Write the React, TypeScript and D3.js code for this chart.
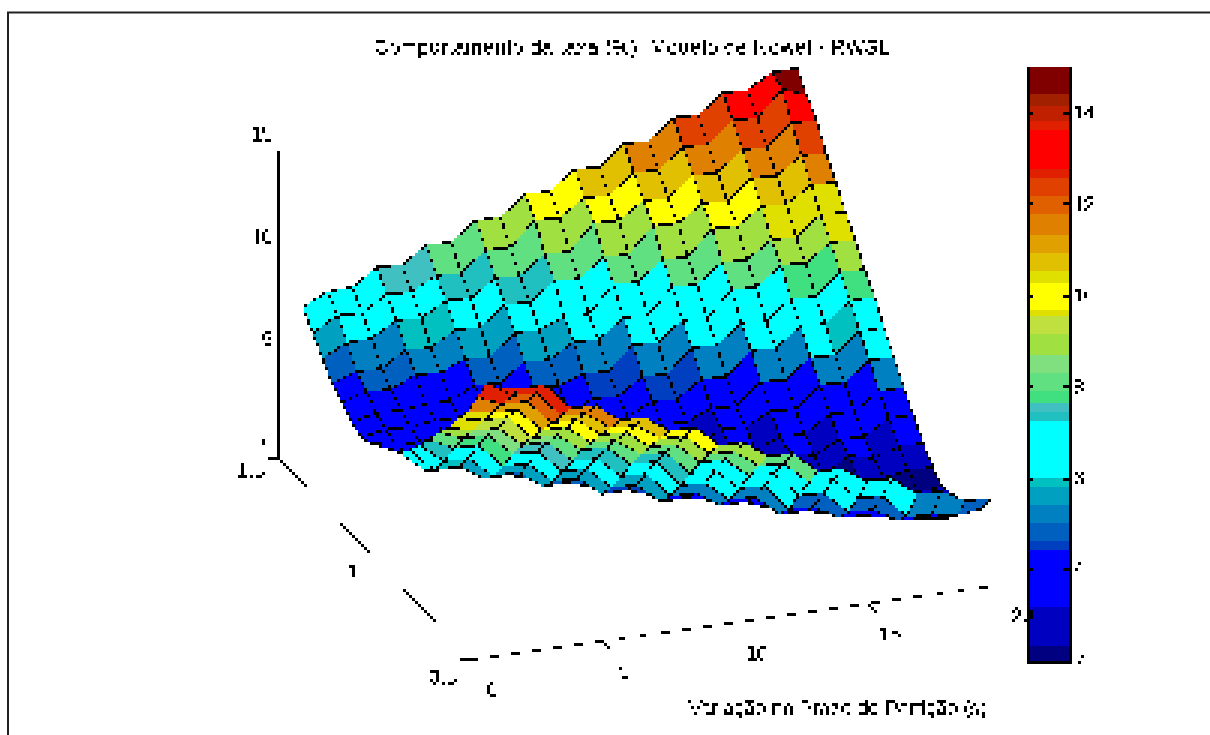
import React from 'react';
import * as d3 from 'd3';

// taxa (%): one list per particao, 21 values from the back row to the front row
const c00 = [7.0,6.25,5.55,4.85,4.38,3.95,3.7,3.87,4.13,4.67,5.2,6.03,6.7,7.35,8.15,8.77,9.66,10.37,11.5,12.6,12.75];
const c01 = [7.55,6.9,6.1,5.2,4.75,4.2,3.9,3.6,3.7,4.04,4.2,4.85,5.8,6.85,7.7,8.5,9.4,10.2,11.0,11.85,12.62];
const c02 = [7.6,6.85,6.15,5.2,4.7,4.2,3.85,3.6,3.65,4.0,4.15,4.8,5.75,6.8,7.7,8.45,9.4,10.15,11.0,11.8,12.6];
const c03 = [8.35,7.55,6.8,5.9,5.2,4.3,4.0,3.7,3.5,3.4,3.7,4.0,4.8,5.7,6.7,7.55,8.3,9.1,9.85,10.6,11.4];
const c04 = [8.29,7.5,6.75,5.85,5.15,4.3,3.95,3.65,3.45,3.4,3.65,3.95,4.75,5.65,6.65,7.5,8.25,9.05,9.85,10.55,11.35];
const c05 = [9.05,8.1,7.4,6.5,5.6,4.85,4.1,3.7,3.4,3.2,3.2,3.5,3.85,4.7,5.6,6.5,7.45,8.2,9.0,9.75,10.55];
const c06 = [9.03,8.05,7.35,6.45,5.55,4.8,4.05,3.65,3.35,3.2,3.15,3.45,3.8,4.65,5.55,6.45,7.4,8.15,8.95,9.7,10.5];
const c07 = [9.87,8.95,8.1,7.35,6.5,5.6,4.85,4.0,3.6,3.3,3.1,3.05,3.35,3.7,4.55,5.5,6.5,7.35,8.15,8.95,9.78];
const c08 = [9.85,8.9,8.05,7.3,6.45,5.55,4.8,3.95,3.55,3.25,3.05,3.0,3.3,3.65,4.5,5.45,6.45,7.3,8.1,8.9,9.75];
const c09 = [10.75,10.0,8.9,8.1,6.9,6.2,5.2,4.5,4.0,3.6,3.2,3.0,2.95,3.2,3.55,4.3,5.2,6.2,7.15,7.95,8.8];
const c10 = [10.73,9.95,8.85,8.05,6.85,6.15,5.15,4.45,3.95,3.55,3.15,2.95,2.9,3.15,3.5,4.25,5.15,6.15,7.1,7.9,8.75];
const c11 = [11.57,10.7,10.0,8.9,8.1,7.0,6.2,5.2,4.5,3.9,3.4,3.0,2.8,2.7,3.15,3.55,4.25,5.2,6.2,7.1,7.97];
const c12 = [11.5,10.65,9.95,8.85,8.05,6.95,6.15,5.15,4.45,3.85,3.1,2.95,2.75,2.65,3.1,3.5,4.2,5.15,6.15,7.05,7.95];
const c13 = [12.4,11.55,10.7,10.0,8.9,8.1,7.0,6.2,5.2,4.3,3.8,3.3,2.9,2.65,2.75,3.0,3.3,3.95,5.0,6.05,6.97];
const c14 = [12.38,11.5,10.65,9.95,8.85,8.05,6.95,6.15,5.15,4.25,3.75,3.1,2.85,2.3,2.7,2.95,3.25,3.9,4.95,6.0,6.95];
const c15 = [13.3,12.4,11.55,10.7,10.0,8.9,8.1,7.0,6.2,5.2,4.3,3.6,3.3,2.6,2.45,2.7,3.0,3.25,3.95,5.0,6.22];
const c16 = [13.25,12.35,11.5,10.65,9.95,8.85,8.05,6.95,6.15,5.15,4.25,3.55,3.0,2.55,2.3,2.65,2.95,3.2,3.9,4.95,6.18];
const c17 = [14.1,13.3,12.4,11.55,10.7,9.6,8.9,7.8,7.0,6.0,5.2,4.3,3.6,3.3,2.6,2.3,2.6,2.95,3.25,3.85,5.35];
const c18 = [14.08,13.25,12.35,11.5,10.65,9.57,8.85,7.75,6.95,5.95,5.15,4.25,3.55,3.0,2.55,2.3,2.6,2.9,3.2,3.8,5.3];
const c19 = [14.74,14.4,13.3,12.25,11.35,10.45,9.6,8.75,7.85,6.9,6.0,5.05,4.25,3.4,2.75,2.3,2.55,2.8,3.05,3.6,4.7];
const c20 = [14.77,13.98,13.28,12.22,11.34,10.41,9.57,8.65,7.85,6.88,6.0,5.03,4.24,3.4,2.75,2.27,2.65,2.95,3.25,3.75,4.68];
const taxa = [c00,c01,c02,c03,c04,c05,c06,c07,c08,c09,c10,c11,c12,c13,c14,c15,c16,c17,c18,c19,c20];

// colormap as the colorbar shows it
const bandEdges = [2,2.35,3.18,4.43,4.62,5.04,5.39,5.8,6,7.25,7.46,7.66,7.88,8.3,8.71,9.13,9.54,9.67,10.28,10.5,10.92,11.33,11.75,12.16,12.58,12.78,13.61,13.83,14.15,14.37,14.98];
const bandColors = ['#000080','#0000c0','#0000ff','#0040c0','#0060c0','#0080c0','#00a0c0','#00c0c0','#00ffff','#20c0c0','#40c0c0','#40e080','#60e080','#80e080','#a0e040','#c0e040','#e0e000','#ffff00','#e0e000','#e0c000','#e0a000','#e08000','#e06000','#e04000','#e02000','#ff0000','#e02000','#c02000','#a02000','#800000'];

const xTicks = [0, 5, 10, 15, 20];
const yTicks = [0.5, 1, 1.5];
const zTicks = [0, 5, 10, 15];
const barTicks = [2, 4, 6, 8, 10, 12, 14];

const title = 'Comportamento da taxa (%): Modelo de Nowel - RWSL';
const xLabel = 'Variação no Prazo de Partição (s)';

// surface projection (col, row, taxa -> screen)
const colToX = d3.scaleLinear().domain([0, 20]).range([303, 797]);
const rowToX = d3.scaleLinear().domain([0, 20]).range([0, 194]);
const colToY = d3.scaleLinear().domain([0, 20]).range([461, 393]);
const rowToY = d3.scaleLinear().domain([0, 20]).range([0, 192]);
const taxaToY = d3.scaleLinear().domain([0, 15]).range([0, -330]);
// the near rows sit lower than an orthographic view would put them
const frontLift = d3.scaleLinear().domain([0, 3]).range([0, 16]).clamp(true);

const project = (i: number, j: number): [number, number] => [
  colToX(i) + rowToX(j),
  colToY(i) + rowToY(j) + frontLift(j - 8 - 0.35 * i) + taxaToY(taxa[i][j]),
];

const colorOf = d3.scaleThreshold<number, string>().domain(bandEdges.slice(1, -1)).range(bandColors);
const closed = d3.line().curve(d3.curveLinearClosed);

// axes in the picture
const zAxis = d3.scaleLinear().domain([0, 15]).range([458, 150]);
const xAxisX = d3.scaleLinear().domain([0, 20]).range([470, 1000]);
const xAxisY = d3.scaleLinear().domain([0, 20]).range([660, 585]);
const yAxisX = d3.scaleLinear().domain([0.5, 1.5]).range([470.6, 278.6]);
const yAxisY = d3.scaleLinear().domain([0.5, 1.5]).range([659, 458]);
const barY = d3.scaleLinear().domain([2, 14]).range([661, 112]);

const quads: { key: string; d: string; fill: string }[] = [];
d3.range(0, 20).forEach((j) => {
  d3.range(19, -1, -1).forEach((i) => {
    quads.push({
      key: i + '-' + j,
      d: closed([project(i, j), project(i + 1, j), project(i + 1, j + 1), project(i, j + 1)]) as string,
      fill: colorOf(taxa[i][j + 1]),
    });
  });
});

const font = { fontFamily: '"Liberation Sans", Arial, sans-serif', fontSize: 20, fill: '#000' };

// low resolution look of the original: sample one pixel in three and blow it up
const Mosaic = ({ id, threshold }: { id: string; threshold?: boolean }) => (
  <filter id={id} x="0" y="0" width="1210" height="735" filterUnits="userSpaceOnUse" primitiveUnits="userSpaceOnUse" colorInterpolationFilters="sRGB">
    <feComponentTransfer in="SourceGraphic" result="src">
      {threshold ? <feFuncA type="discrete" tableValues="0 1" /> : <feFuncA type="identity" />}
    </feComponentTransfer>
    <feFlood x="2" y="2" width="1" height="1" floodColor="#000" />
    <feComposite x="0" y="0" width="3" height="3" />
    <feTile x="0" y="0" width="1210" height="735" result="grid" />
    <feComposite in="src" in2="grid" operator="in" />
    <feMorphology operator="dilate" radius="1" />
  </filter>
);

export default function App() {
  return (
    <svg width={1210} height={735} style={{ position: 'fixed', left: 0, top: 0, background: '#fff' }}>
      <defs>
        <Mosaic id="mosaic" />
        <Mosaic id="mosaicText" threshold />
      </defs>

      <g filter="url(#mosaic)" shapeRendering="crispEdges">
        <rect width={1210} height={735} fill="#fff" />
        {quads.map((q) => (
          <path key={q.key} d={q.d} fill={q.fill} stroke="#000" strokeWidth={1.3} />
        ))}

        <g stroke="#000" fill="none">
          <line x1={278} x2={278} y1={zAxis(15)} y2={zAxis(0)} strokeWidth={3} />
          <line x1={yAxisX(1.5)} y1={yAxisY(1.5)} x2={yAxisX(0.5)} y2={yAxisY(0.5)} strokeWidth={1} />
          <line x1={xAxisX(0)} y1={xAxisY(0)} x2={xAxisX(20)} y2={xAxisY(20)} strokeWidth={1.2} />
          {xTicks.map((t) => (
            <line key={t} x1={xAxisX(t)} y1={xAxisY(t)} x2={xAxisX(t) + 9} y2={xAxisY(t) + 9} strokeWidth={1.2} />
          ))}
          {yTicks.map((t) => (
            <line key={t} x1={yAxisX(t)} y1={yAxisY(t)} x2={yAxisX(t) - 11} y2={yAxisY(t) + 1.5} strokeWidth={1.5} />
          ))}
        </g>

        {bandColors.map((c, k) => (
          <rect
            key={k}
            x={1031}
            width={38}
            y={barY(bandEdges[k + 1])}
            height={barY(bandEdges[k]) - barY(bandEdges[k + 1])}
            fill={c}
          />
        ))}
        <g fill="#000">
          <rect x={1028} y={barY(bandEdges[30])} width={3} height={barY(2) - barY(bandEdges[30]) + 3} />
          <rect x={1069} y={barY(bandEdges[30])} width={3} height={barY(2) - barY(bandEdges[30]) + 3} />
          <rect x={1028} y={barY(2)} width={44} height={3} />
          {barTicks.map((t) => (
            <g key={t}>
              <rect x={1031} y={barY(t) - 1} width={3} height={3} />
              <rect x={1062} y={barY(t) - 1} width={7} height={3} />
            </g>
          ))}
        </g>
      </g>

      <path d="M8,735V12.5H1210" stroke="#222" strokeWidth={2} fill="none" />

      <g filter="url(#mosaicText)" style={font}>
        <text x={632} y={54} textAnchor="middle" textLength={516}>{title}</text>
        <text x={838} y={715} textAnchor="middle" textLength={298}>{xLabel}</text>
        {zTicks.map((t) => (
          <text key={t} x={273} y={zAxis(t) - 16 + 7} textAnchor="end">{t}</text>
        ))}
        {yTicks.map((t) => (
          <text key={t} x={t === 1 ? 358 : yAxisX(t) - 14} y={yAxisY(t) + (t === 0.5 ? 25 : 19)} textAnchor="end">{t}</text>
        ))}
        {xTicks.map((t) => (
          <text key={t} x={xAxisX(t) + 22} y={xAxisY(t) + 37} textAnchor="middle">{t}</text>
        ))}
        {barTicks.map((t) => (
          <text key={t} x={1073} y={barY(t) + 7}>{t}</text>
        ))}
      </g>
    </svg>
  );
}
